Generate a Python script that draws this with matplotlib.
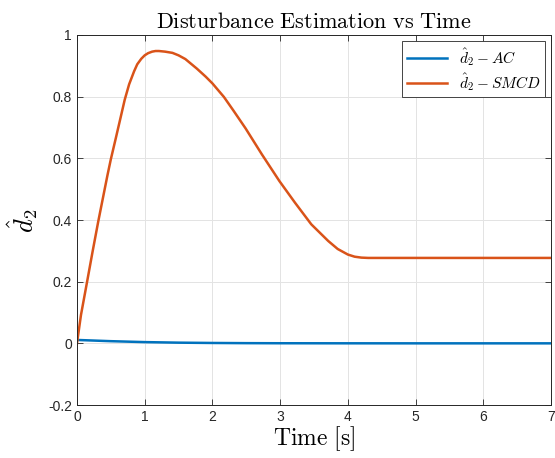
import numpy as np
import matplotlib.pyplot as plt

plt.rcParams['mathtext.fontset'] = 'cm'
plt.rcParams['font.family'] = ['Liberation Sans', 'DejaVu Sans']
plt.rcParams['axes.unicode_minus'] = False

# estimated disturbance d2_hat, SMCD observer
t_smcd = [0, 0.059, 0.147, 0.23, 0.313, 0.40, 0.45, 0.5, 0.573, 0.647, 0.705, 0.77, 0.843,
          0.89, 0.95, 1.0, 1.05, 1.11, 1.16, 1.21, 1.3, 1.41, 1.5, 1.6, 1.77, 1.9, 2.0, 2.17,
          2.31, 2.49, 2.73, 2.99, 3.22, 3.46, 3.71, 3.85, 4.0, 4.1, 4.2, 4.3, 5.0, 6.0, 7.0]
d_smcd = [0, 0.092, 0.197, 0.297, 0.394, 0.49, 0.545, 0.597, 0.665, 0.735, 0.79, 0.84, 0.882,
          0.905, 0.923, 0.934, 0.941, 0.946, 0.948, 0.948, 0.946, 0.942, 0.934, 0.922, 0.891,
          0.865, 0.843, 0.799, 0.755, 0.697, 0.613, 0.526, 0.456, 0.386, 0.332, 0.306, 0.288,
          0.281, 0.278, 0.277, 0.277, 0.277, 0.277]

# estimated disturbance d2_hat, AC
t_ac = [0, 0.25, 0.5, 0.75, 1.0, 1.5, 2.0, 2.5, 3.0, 4.0, 5.0, 6.0, 7.0]
d_ac = [0.011, 0.009, 0.007, 0.0055, 0.004, 0.0022, 0.0012, 0.0006, 0.0003, 0.0001, 0, 0, 0]

xticks = [0, 1, 2, 3, 4, 5, 6, 7]
yticks = [-0.2, 0, 0.2, 0.4, 0.6, 0.8, 1]

fig = plt.figure(figsize=(5.55, 4.58), dpi=100)
ax = fig.add_axes([0.1387, 0.1157, 0.8541, 0.8079])

ax.plot(t_ac, d_ac, color='#0072BD', lw=1.8, label=r'$\hat{d}_2 - AC$')
ax.plot(t_smcd, d_smcd, color='#D95319', lw=1.8, label=r'$\hat{d}_2 - SMCD$')

ax.set_xlim(0, 7)
ax.set_ylim(-0.2, 1)
ax.set_xticks(xticks)
ax.set_yticks(yticks)
ax.set_xticklabels([str(v) for v in xticks])
ax.set_yticklabels(['-0.2', '0', '0.2', '0.4', '0.6', '0.8', '1'])
ax.tick_params(direction='in', top=True, right=True, labelsize=10, colors='#262626',
               length=4, width=0.6)
ax.grid(True, color='#e3e3e3', lw=0.7)
for s in ax.spines.values():
    s.set_color('#262626')
    s.set_linewidth(0.7)

ax.set_title(r'$\mathrm{Disturbance\ Estimation\ vs\ Time}$', fontsize=16, pad=5)
ax.set_xlabel(r'$\mathrm{Time\ [s]}$', fontsize=17, labelpad=0)
ax.set_ylabel(r'$\hat{d}_2$', fontsize=19, labelpad=6)

leg = ax.legend(loc='upper right', fontsize=11, fancybox=False, framealpha=1,
                edgecolor='#262626', borderaxespad=0.4, handlelength=2.6,
                labelspacing=0.2, borderpad=0.3)
leg.get_frame().set_linewidth(0.6)

fig.savefig('out.png', dpi=100)
